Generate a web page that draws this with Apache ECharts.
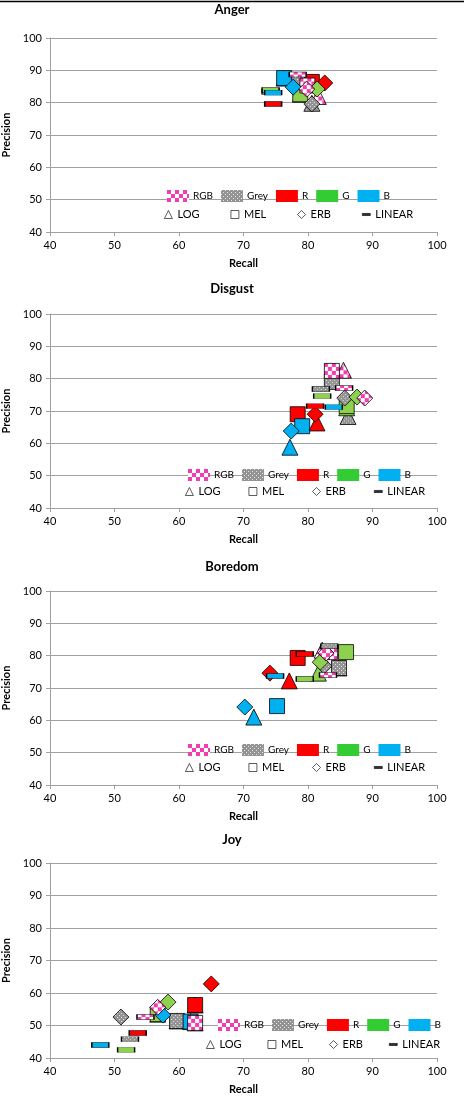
<!DOCTYPE html>
<html><head><meta charset="utf-8">
<script src="https://cdn.jsdelivr.net/npm/echarts@6/dist/echarts.min.js"></script>
<style>html,body{margin:0;padding:0;background:#fff}#c{width:464px;height:1096px}</style>
</head><body><div id="c"></div>
<script>
// ---- DATA ----
const panelTitles = ['Anger', 'Disgust', 'Boredom', 'Joy'];
const colorNames = ['RGB', 'Grey', 'R', 'G', 'B'];
const shapeNames = ['LOG', 'MEL', 'ERB', 'LINEAR'];
const axisMin = 40, axisMax = 100, axisStep = 10;
// each array: [recall, precision] for LOG, MEL, ERB, LINEAR
const angerRGB  = [[81.6, 81.9], [79.9, 85.3], [79.8, 84.2], [78.4, 88.7]];
const angerGrey = [[80.6, 79.8], [78.3, 86.1], [80.6, 79.6], [74.2, 83.4]];
const angerR    = [[80.6, 86.4], [80.6, 86.4], [82.6, 86.1], [74.6, 79.6]];
const angerG    = [[78.8, 82.6], [78.8, 82.6], [81.4, 84.2], [74.2, 83.9]];
const angerB    = [[76.3, 87.6], [76.3, 87.6], [77.7, 84.8], [74.6, 83.1]];

const disgustRGB  = [[85.5, 82.6], [83.7, 82.4], [88.8, 74.0], [85.6, 77.1]];
const disgustGrey = [[86.2, 68.3], [83.7, 79.0], [85.7, 74.0], [82.0, 76.8]];
const disgustR    = [[81.4, 66.3], [78.4, 69.0], [81.1, 69.0], [81.1, 71.5]];
const disgustG    = [[86.0, 71.0], [86.0, 71.5], [87.6, 74.3], [82.2, 74.6]];
const disgustB    = [[77.2, 58.8], [79.1, 65.3], [77.4, 63.8], [84.0, 71.2]];

const boredomRGB  = [[82.2, 81.7], [83.4, 81.1], [82.8, 80.8], [83.1, 74.0]];
const boredomGrey = [[84.8, 76.2], [84.8, 76.2], [82.5, 76.8], [83.3, 82.9]];
const boredomR    = [[77.1, 72.2], [78.4, 79.3], [74.1, 74.6], [79.5, 80.5]];
const boredomG    = [[81.6, 74.6], [85.9, 81.1], [81.9, 78.0], [79.5, 72.8]];
const boredomB    = [[71.6, 61.0], [75.2, 64.4], [70.2, 64.1], [74.9, 73.7]];

const joyRGB  = [[62.5, 50.8], [62.5, 50.8], [56.7, 55.6], [54.8, 52.6]];
const joyGrey = [[59.7, 51.4], [59.7, 51.4], [51.0, 52.6], [52.4, 45.8]];
const joyR    = [[62.5, 56.3], [62.5, 56.3], [65.0, 62.8], [53.6, 47.7]];
const joyG    = [[56.7, 53.5], [56.7, 53.5], [58.3, 57.2], [51.8, 42.5]];
const joyB    = [[61.8, 51.2], [61.8, 51.2], [57.5, 53.2], [47.8, 44.0]];

const panelData = [
  [angerRGB, angerGrey, angerR, angerG, angerB],
  [disgustRGB, disgustGrey, disgustR, disgustG, disgustB],
  [boredomRGB, boredomGrey, boredomR, boredomG, boredomB],
  [joyRGB, joyGrey, joyR, joyG, joyB]
];

// ---- STYLES ----
function checker() {
  const c = document.createElement('canvas'); c.width = 8; c.height = 8;
  const g = c.getContext('2d');
  g.fillStyle = '#fff'; g.fillRect(0, 0, 8, 8);
  g.fillStyle = '#F23DB0'; g.fillRect(0, 0, 4, 4); g.fillRect(4, 4, 4, 4);
  return c;
}
function dotted() {
  const c = document.createElement('canvas'); c.width = 4; c.height = 4;
  const g = c.getContext('2d');
  g.fillStyle = '#939393'; g.fillRect(0, 0, 4, 4);
  g.fillStyle = '#e6e6e6'; g.fillRect(0, 0, 1, 1); g.fillRect(2, 2, 1, 1);
  return c;
}
const checkerImg = checker(), dottedImg = dotted();
function pat(img, w, h) {
  // symbols are drawn in a unit box and scaled by size/2; undo that for the pattern
  return { type: 'pattern', image: img, repeat: 'repeat', scaleX: 2 / w, scaleY: 2 / h };
}
const symbols = { LOG: 'triangle', MEL: 'rect', ERB: 'diamond', LINEAR: 'rect' };
const sizes = { LOG: [16, 16], MEL: [15, 15], ERB: [16, 16], LINEAR: [17, 5] };
function fillFor(cn, s) {
  const [w, h] = sizes[s];
  if (cn === 'RGB') return pat(checkerImg, w, h);
  if (cn === 'Grey') return pat(dottedImg, w, h);
  return { R: '#FF0000', G: '#8ED14F', B: '#00B0F0' }[cn];
}
const legendFills = {
  RGB: { type: 'pattern', image: checkerImg, repeat: 'repeat' },
  Grey: { type: 'pattern', image: dottedImg, repeat: 'repeat' },
  R: '#FF0000', G: '#33CC33', B: '#00B0F0'
};
const font = 'Lato, "Open Sans", sans-serif';

const gridTops = [38, 314, 591, 863];
const gridH = [194, 194, 194, 195];
const titleTops = [3, 282, 560, 833];
const leg1 = [{ l: 167, t: 190 }, { l: 188, t: 469 }, { l: 188, t: 744 }, { l: 218, t: 1019 }];
const leg2 = [{ l: 164, t: 209, g: 31 }, { l: 185, t: 486, g: 28 }, { l: 185, t: 762, g: 28 }, { l: 206, t: 1039, g: 26 }];

const option = {
  animation: false,
  textStyle: { fontFamily: font },
  title: [], grid: [], xAxis: [], yAxis: [], legend: [], series: [],
  graphic: [{ type: 'line', shape: { x1: 0, y1: 1.5, x2: 464, y2: 1.5 }, style: { stroke: '#000', lineWidth: 1.5 } }]
};

panelTitles.forEach((t, p) => {
  option.title.push({ text: t, left: 'center', top: titleTops[p], padding: 0,
    textStyle: { fontFamily: font, fontSize: 13, fontWeight: 'bold', color: '#000' } });
  option.grid.push({ left: 50, right: 27, top: gridTops[p], height: gridH[p], outerBoundsMode: 'none', containLabel: false });
  option.xAxis.push({ gridIndex: p, type: 'value', min: axisMin, max: axisMax, interval: axisStep,
    name: 'Recall', nameLocation: 'middle', nameGap: 26,
    nameTextStyle: { fontFamily: font, fontSize: 11, fontWeight: 'bold', color: '#000' },
    axisLine: { show: true, lineStyle: { color: '#a0a0a0' } },
    axisTick: { show: true, length: 4, lineStyle: { color: '#a0a0a0' } },
    axisLabel: { fontFamily: font, fontSize: 11, color: '#000', margin: 8 },
    splitLine: { show: false } });
  option.yAxis.push({ gridIndex: p, type: 'value', min: axisMin, max: axisMax, interval: axisStep,
    name: 'Precision', nameLocation: 'middle', nameGap: 34, nameRotate: 90,
    nameTextStyle: { fontFamily: font, fontSize: 11, fontWeight: 'bold', color: '#000' },
    axisLine: { show: true, lineStyle: { color: '#a0a0a0' } },
    axisTick: { show: true, length: 4, lineStyle: { color: '#a0a0a0' } },
    axisLabel: { fontFamily: font, fontSize: 11, color: '#000', margin: 8 },
    splitLine: { show: true, lineStyle: { color: '#a0a0a0', width: 1 } } });

  shapeNames.forEach((s, si) => {
    ['Grey', 'R', 'G', 'B', 'RGB'].forEach(cn => {
      const ci = colorNames.indexOf(cn);
      option.series.push({
        type: 'scatter', name: cn, xAxisIndex: p, yAxisIndex: p,
        symbol: symbols[s], symbolSize: sizes[s],
        itemStyle: { color: fillFor(cn, s), borderColor: '#000', borderWidth: 0.8, opacity: 1 },
        emphasis: { disabled: true },
        data: [panelData[p][ci][si]]
      });
    });
  });

  option.legend.push({
    left: leg1[p].l, top: leg1[p].t, padding: 0, itemGap: 8, itemWidth: 22, itemHeight: 12,
    selectedMode: false, icon: 'rect',
    itemStyle: { borderWidth: 0 },
    textStyle: { fontFamily: font, fontSize: 10, color: '#000', padding: [0, 0, 0, -1] },
    data: colorNames.map(n => ({ name: n, itemStyle: { color: legendFills[n], borderWidth: 0 } }))
  });
  option.legend.push({
    left: leg2[p].l, top: leg2[p].t, padding: 0, itemGap: leg2[p].g, itemWidth: 8, itemHeight: 8,
    selectedMode: false,
    itemStyle: { borderWidth: 0.8 },
    textStyle: { fontFamily: font, fontSize: 11, color: '#000' },
    data: [
      { name: 'LOG', icon: 'triangle' },
      { name: 'MEL', icon: 'rect' },
      { name: 'ERB', icon: 'diamond' },
      { name: 'LINEAR', icon: 'path://M0,0H10V2.6H0Z', itemStyle: { color: '#000' } }
    ]
  });
});

shapeNames.forEach(s => {
  option.series.push({ type: 'scatter', name: s, xAxisIndex: 0, yAxisIndex: 0, data: [],
    symbol: symbols[s], itemStyle: { color: '#fff', borderColor: '#000', borderWidth: 0.8 } });
});

const chart = echarts.init(document.getElementById('c'), null, { renderer: 'canvas' });
chart.setOption(option);
</script></body></html>
